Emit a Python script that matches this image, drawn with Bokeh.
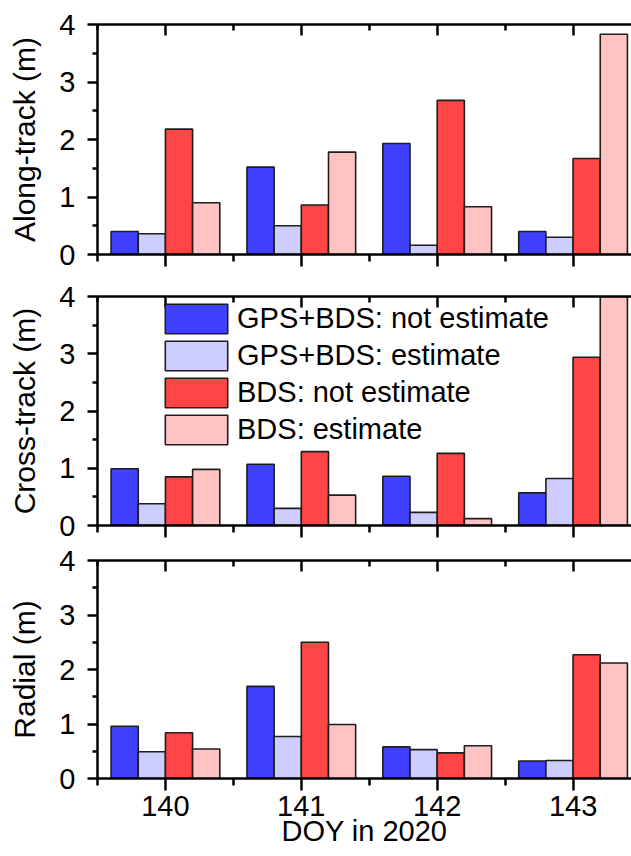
from bokeh.plotting import figure
from bokeh.layouts import column
from bokeh.models import (ColumnDataSource, Range1d, FixedTicker, LinearAxis,
                          Legend, LegendItem)
from bokeh.transform import dodge
from bokeh.embed import file_html
from bokeh.resources import INLINE

# ---------------- data ----------------
days = [140, 141, 142, 143]
series_names = ["GPS+BDS: not estimate", "GPS+BDS: estimate",
                "BDS: not estimate", "BDS: estimate"]

along_gps_bds_not = [0.40, 1.52, 1.93, 0.40]
along_gps_bds_est = [0.36, 0.50, 0.16, 0.30]
along_bds_not = [2.18, 0.86, 2.68, 1.67]
along_bds_est = [0.90, 1.78, 0.83, 3.83]

cross_gps_bds_not = [0.99, 1.07, 0.86, 0.57]
cross_gps_bds_est = [0.38, 0.30, 0.23, 0.82]
cross_bds_not = [0.85, 1.29, 1.26, 2.94]
cross_bds_est = [0.98, 0.53, 0.12, 4.60]

radial_gps_bds_not = [0.96, 1.69, 0.58, 0.32]
radial_gps_bds_est = [0.49, 0.77, 0.53, 0.33]
radial_bds_not = [0.84, 2.50, 0.47, 2.27]
radial_bds_est = [0.54, 0.99, 0.60, 2.12]

y_ticks = [0, 1, 2, 3, 4]
y_minor = [0.5, 1.5, 2.5, 3.5]
x_minor = [139.5, 140.5, 141.5, 142.5, 143.5]

# ---------------- style ----------------
colors = ["#4040FF", "#CDCDFF", "#FF4545", "#FFC3C3"]
offsets = [-0.3, -0.1, 0.1, 0.3]
FONT = "Liberation Sans"
FS = "29px"
LW = 2.5
W = 631


def style_axis(ax):
    ax.axis_line_width = LW
    ax.axis_line_color = "black"
    ax.major_tick_line_width = LW
    ax.minor_tick_line_width = LW
    ax.major_tick_line_color = "black"
    ax.minor_tick_line_color = "black"
    ax.major_label_text_font = FONT
    ax.major_label_text_font_size = FS
    ax.major_label_text_color = "black"
    ax.axis_label_text_font = FONT
    ax.axis_label_text_font_size = "30px"
    ax.axis_label_text_font_style = "normal"
    ax.axis_label_text_color = "black"


def hide_labels(ax):
    ax.major_label_overrides = {d: "" for d in days}
    ax.major_label_text_font_size = "1px"
    ax.major_label_standoff = 0


def make_panel(vals, ylabel, top_b, frame_h, bot_b, show_x=False, legend=False):
    p = figure(width=W, height=top_b + frame_h + bot_b,
               x_range=Range1d(139.5, 143.43), y_range=Range1d(0, 4),
               output_backend="svg", toolbar_location=None,
               min_border_left=97, min_border_right=0,
               min_border_top=top_b, min_border_bottom=bot_b)
    p.outline_line_color = None
    p.xgrid.visible = False
    p.ygrid.visible = False
    p.background_fill_color = "white"
    p.border_fill_color = "white"

    data = dict(day=days)
    for i, v in enumerate(vals):
        data["s%d" % i] = v
    src = ColumnDataSource(data)
    rends = []
    for i in range(4):
        r = p.vbar(x=dodge("day", offsets[i]), top="s%d" % i, width=0.2,
                   source=src, fill_color=colors[i], line_color="#1e1e1e",
                   line_width=1.6)
        rends.append(r)

    # bottom axis
    xa = p.xaxis[0]
    xa.ticker = FixedTicker(ticks=days, minor_ticks=x_minor)
    style_axis(xa)
    xa.major_tick_out = 12
    xa.major_tick_in = 0
    xa.minor_tick_out = 7
    xa.minor_tick_in = 0
    if show_x:
        xa.axis_label = "DOY in 2020"
        xa.axis_label_text_font_size = FS
        xa.major_label_standoff = 5
        xa.axis_label_standoff = -4
    else:
        hide_labels(xa)

    # top axis (inward ticks)
    ta = LinearAxis(ticker=FixedTicker(ticks=days, minor_ticks=x_minor))
    style_axis(ta)
    ta.major_tick_in = 11
    ta.major_tick_out = 0
    ta.minor_tick_in = 6
    ta.minor_tick_out = 0
    hide_labels(ta)
    p.add_layout(ta, "above")

    # left axis
    ya = p.yaxis[0]
    ya.ticker = FixedTicker(ticks=y_ticks, minor_ticks=y_minor)
    style_axis(ya)
    ya.major_tick_out = 10
    ya.major_tick_in = 0
    ya.minor_tick_out = 5
    ya.minor_tick_in = 0
    ya.major_label_standoff = 12
    ya.axis_label = ylabel
    ya.axis_label_standoff = 15

    if legend:
        items = [LegendItem(label=series_names[i], renderers=[rends[i]])
                 for i in range(4)]
        lg = Legend(items=items, location=(60, 77))
        lg.glyph_width = 78
        lg.glyph_height = 37
        lg.spacing = -2
        lg.padding = 0
        lg.margin = 0
        lg.label_standoff = 2
        lg.border_line_color = None
        lg.background_fill_alpha = 0
        lg.label_text_font = FONT
        lg.label_text_font_size = FS
        lg.label_text_color = "black"
        p.add_layout(lg, "center")
    return p


p1 = make_panel([along_gps_bds_not, along_gps_bds_est, along_bds_not, along_bds_est],
                "Along-track (m)", 24, 230, 20)
p2 = make_panel([cross_gps_bds_not, cross_gps_bds_est, cross_bds_not, cross_bds_est],
                "Cross-track (m)", 22, 229, 15, legend=True)
p3 = make_panel([radial_gps_bds_not, radial_gps_bds_est, radial_bds_not, radial_bds_est],
                "Radial (m)", 20, 218, 78, show_x=True)

layout = column(p1, p2, p3, spacing=0)
open("out.html", "w").write(file_html(layout, INLINE))
